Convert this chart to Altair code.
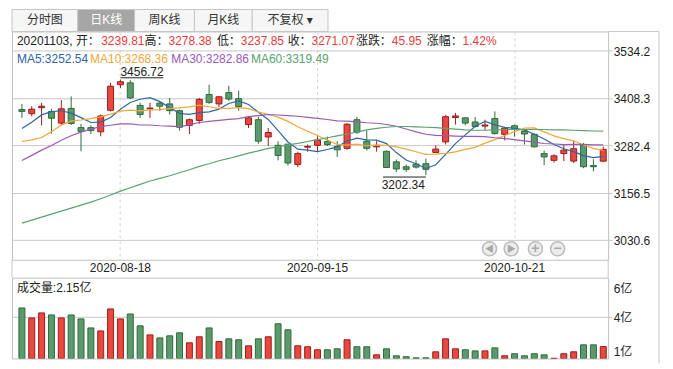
import altair as alt
import pandas as pd

FONT = "Liberation Sans, Noto Sans CJK SC, DejaVu Sans, sans-serif"

# ---------------- data ----------------
dates = ["2020-08-04","2020-08-05","2020-08-06","2020-08-07","2020-08-10","2020-08-11","2020-08-12","2020-08-13","2020-08-14","2020-08-17",
         "2020-08-18","2020-08-19","2020-08-20","2020-08-21","2020-08-24","2020-08-25","2020-08-26","2020-08-27","2020-08-28","2020-08-31",
         "2020-09-01","2020-09-02","2020-09-03","2020-09-04","2020-09-07","2020-09-08","2020-09-09","2020-09-10","2020-09-11","2020-09-14",
         "2020-09-15","2020-09-16","2020-09-17","2020-09-18","2020-09-21","2020-09-22","2020-09-23","2020-09-24","2020-09-25","2020-09-28",
         "2020-09-29","2020-09-30","2020-10-09","2020-10-12","2020-10-13","2020-10-14","2020-10-15","2020-10-16","2020-10-19","2020-10-20",
         "2020-10-21","2020-10-22","2020-10-23","2020-10-26","2020-10-27","2020-10-28","2020-10-29","2020-10-30","2020-11-02","2020-11-03"]

opens = [3377,3366,3382,3372,3341,3380,3329,3329,3318,3375,
         3443,3448,3388,3379,3394,3392,3374,3335,3348,3417,
         3392,3422,3406,3337,3350,3304,3282,3285,3231,3277,
         3282,3292,3279,3274,3350,3293,3278,3266,3238,3225,
         3232,3233,3263,3291,3356,3355,3344,3333,3353,3311,
         3334,3320,3311,3260,3242,3260,3240,3282,3228,3239.81]
highs = [3392,3386,3395,3379,3402,3412,3339,3335,3364,3448,
         3456.72,3455,3395,3395,3400,3408,3377,3353,3408,3443,
         3413,3440,3427,3358,3358,3328,3293,3285,3265,3284,
         3306,3305,3293,3341,3358,3321,3293,3268,3244,3231,
         3242,3247,3282,3362,3368,3356,3357,3350,3372,3331,
         3337,3322,3313,3268,3258,3282,3293,3288,3245,3278.38]
lows = [3355,3359,3335,3313,3337,3336,3266,3312,3306,3372,
        3434,3405,3355,3355,3373,3364,3321,3312,3339,3392,
        3383,3400,3374,3328,3286,3280,3242,3228,3224,3265,
        3266,3280,3251,3270,3312,3268,3265,3222,3211,3211,
        3220,3202.34,3262,3284,3337,3335,3329,3323,3311,3295,
        3305,3284,3276,3229,3236,3240,3235,3221,3213,3237.85]
closes = [3372,3378,3386,3354,3379,3340,3319,3321,3360,3439,
          3451,3408,3364,3381,3386,3374,3330,3350,3404,3396,
          3411,3405,3385,3355,3293,3316,3255,3235,3260,3279,
          3296,3284,3270,3338,3317,3274,3280,3223,3219,3218,
          3224,3218,3272,3358,3360,3341,3332,3336,3313,3328,
          3325,3312,3278,3251,3254,3269,3273,3225,3225,3271.07]

ma5 = [3326.4,3343.0,3362.8,3371.6,3373.8,3367.4,3355.6,3342.6,3343.8,3355.8,
       3378.0,3395.8,3404.4,3408.6,3398.0,3382.6,3367.0,3364.2,3368.8,3370.8,
       3378.2,3393.2,3400.2,3390.4,3369.8,3350.8,3320.8,3290.8,3271.8,3269.0,
       3265.0,3270.8,3277.8,3293.4,3301.0,3296.6,3295.8,3286.4,3262.6,3242.8,
       3232.8,3220.4,3230.2,3258.0,3286.4,3309.8,3332.6,3345.4,3336.4,3330.0,
       3326.8,3322.8,3311.2,3298.8,3284.0,3272.8,3265.0,3254.4,3249.2,3252.54]
ma10 = [3292.0,3296.5,3302.6,3318.3,3335.7,3346.9,3349.3,3352.7,3357.7,3364.8,
        3372.7,3375.7,3373.5,3376.2,3376.9,3380.3,3381.4,3384.3,3388.7,3384.4,
        3380.4,3380.1,3382.2,3379.6,3370.3,3364.5,3357.0,3345.5,3331.1,3319.4,
        3307.9,3295.8,3284.3,3282.6,3285.0,3280.8,3283.3,3282.1,3278.0,3271.9,
        3264.7,3258.1,3258.3,3260.3,3264.6,3271.3,3276.5,3287.8,3297.2,3308.2,
        3318.3,3327.7,3328.3,3317.6,3307.0,3299.8,3293.9,3282.8,3274.0,3268.36]
ma30 = [3241.5,3255.2,3269.1,3281.6,3295.5,3307.3,3317.1,3324.8,3331.7,3335.2,
        3338.7,3338.9,3336.0,3335.9,3334.0,3332.7,3331.6,3336.3,3342.6,3345.4,
        3348.4,3350.8,3352.8,3358.0,3361.0,3363.9,3362.6,3360.8,3359.2,3356.2,
        3353.7,3350.5,3346.7,3346.1,3344.1,3341.9,3340.6,3337.3,3332.6,3325.2,
        3317.7,3311.3,3308.3,3307.5,3306.6,3305.5,3305.6,3305.1,3302.1,3299.8,
        3297.0,3293.9,3290.3,3286.8,3285.5,3284.0,3284.6,3284.2,3283.1,3282.86]
ma60 = [3075,3083,3091,3099,3107,3115,3123,3131,3140,3150,
        3160,3169,3178,3187,3194,3201,3209,3217,3226,3233,
        3241,3247,3254,3261,3267,3274,3278,3283,3287,3292,
        3297,3302,3307,3312,3317,3323,3327,3330,3332,3332,
        3331,3330,3329,3327,3325,3323,3322,3322,3323,3324,
        3324,3324,3324,3324,3323,3323,3322,3321,3320,3319.49]

volumes = [4.59,3.96,4.28,4.15,3.96,4.15,3.90,3.33,3.14,4.53,
           3.90,4.21,3.46,2.89,2.70,2.83,3.02,2.39,2.77,3.33,
           2.47,2.64,2.58,2.20,2.64,2.77,3.59,3.21,2.20,2.14,
           1.95,1.95,2.01,2.58,2.14,2.14,1.63,2.01,1.57,1.51,
           1.44,1.44,1.82,2.64,2.01,1.95,1.88,1.88,2.07,1.57,
           1.70,1.57,1.70,1.63,1.41,1.70,1.82,2.26,2.26,2.15]

price_ticks = [3030.6, 3156.5, 3282.4, 3408.3, 3534.2]
price_domain = [2977.6, 3584.6]
vol_base = 1.4
vol_domain = [1.4, 6.5]
vol_ticks = [1.4, 4, 5.8]
vol_grid = [4]
date_ticks = ["2020-08-18", "2020-09-15", "2020-10-21"]

ma_names = ["MA5", "MA10", "MA30", "MA60"]
ma_last = ["3252.54", "3268.36", "3282.86", "3319.49"]
ma_colors = ["#2f66a6", "#eea83c", "#9b59b6", "#58a46e"]

info_labels = ["20201103, 开：", "高：", "低：", "收：", "涨跌：", "涨幅："]
info_values = ["3239.81", "3278.38", "3237.85", "3271.07", "45.95", "1.42%"]
high_mark = ("2020-08-18", 3456.72)
low_mark = ("2020-09-30", 3202.34)
vol_title = "成交量:2.15亿"
tabs = ["分时图", "日K线", "周K线", "月K线", "不复权 ▾"]
tab_selected = 1
nav_glyphs = ["◀", "▶", "+", "−"]

# ---------------- layout constants ----------------
W, H_P, H_V = 598, 229, 81
RED_F, RED_S = "#e8483e", "#9b1c1c"
GRN_F, GRN_S = "#5b9a6e", "#2e6b36"
GRID = "#c8c8c8"
TXT = "#222222"
VAL_RED = "#e83c3c"

df = pd.DataFrame({"date": dates, "open": opens, "high": highs, "low": lows,
                   "close": closes, "vol": volumes})
df["dir"] = ["up" if c >= o else "down" for o, c in zip(opens, closes)]

ma_df = pd.concat([pd.DataFrame({"date": dates, "value": v, "name": n})
                   for n, v in zip(ma_names, [ma5, ma10, ma30, ma60])])

xscale = alt.Scale(type="band", paddingInner=0, paddingOuter=0.253, align=1)
x_axis = alt.Axis(values=date_ticks, labelAngle=0, grid=True, gridDash=[3, 3],
                  gridColor="#d4d4d4", domain=False, ticks=False, tickSize=0,
                  labelPadding=3, bandPosition=0.5, labelFontSize=12,
                  labelColor=TXT, labelFont=FONT, title=None)
X = alt.X("date:O", scale=xscale, axis=x_axis, title=None)
pscale = alt.Scale(domain=price_domain, zero=False, nice=False)
p_axis = alt.Axis(orient="right", values=price_ticks, format=".1f", grid=True,
                  gridColor=GRID, domain=False, tickSize=4, tickColor=GRID,
                  labelPadding=1, labelOffset=1, labelFontSize=12, labelColor=TXT,
                  labelFont=FONT, title=None)

def PY(field):
    return alt.Y(field, scale=pscale, axis=p_axis, title=None)

fill_enc = alt.Fill("dir:N", scale=alt.Scale(domain=["up", "down"], range=[RED_F, GRN_F]), legend=None)
stroke_enc = alt.Stroke("dir:N", scale=alt.Scale(domain=["up", "down"], range=[RED_S, GRN_S]), legend=None)

base = alt.Chart(df)
wicks = base.mark_rule(strokeWidth=1).encode(x=X, y=PY("low:Q"), y2="high:Q", stroke=stroke_enc)
bodies = base.mark_bar(size=6, strokeWidth=1).encode(x=X, y=PY("open:Q"), y2="close:Q",
                                                     fill=fill_enc, stroke=stroke_enc)
ma_lines = alt.Chart(ma_df).mark_line(strokeWidth=1.2).encode(
    x=X, y=PY("value:Q"),
    color=alt.Color("name:N", scale=alt.Scale(domain=ma_names, range=ma_colors), legend=None),
    order=alt.Order("date:O"))

def one():
    return pd.DataFrame({"a": [0]})

def label(txt, x, y, color=TXT, size=12, align="left", baseline="middle", weight="normal"):
    return alt.Chart(pd.DataFrame({"t": [txt]})).mark_text(
        align=align, baseline=baseline, fontSize=size, color=color, font=FONT,
        fontWeight=weight).encode(x=alt.value(x), y=alt.value(y), text="t:N")

def box(x0, x1, y0, y1, fill, stroke, sw=1):
    return alt.Chart(one()).mark_rect(fill=fill, stroke=stroke, strokeWidth=sw).encode(
        x=alt.value(x0), x2=alt.value(x1), y=alt.value(y0), y2=alt.value(y1))

def line(x0, x1, y0, y1, color=GRID):
    return alt.Chart(one()).mark_rule(color=color, strokeWidth=1).encode(
        x=alt.value(x0), x2=alt.value(x1), y=alt.value(y0), y2=alt.value(y1))

# info row (label anchors: (x, align); values start at x)
info_lab_pos = [(5, "left"), (157, "right"), (229.5, "right"), (300.5, "right"),
                (345, "left"), (452, "right")]
info_val_x = [89.5, 157, 229.5, 300.5, 381, 452]
texts = []
for t, (x, a) in zip(info_labels, info_lab_pos):
    texts.append(label(t, x, 10, align=a))
for t, x in zip(info_values, info_val_x):
    texts.append(label(t, x, 10, VAL_RED))
# MA legend
for n, v, c, x in zip(ma_names, ma_last, ma_colors, [5, 78.3, 159.7, 239.7]):
    texts.append(label(f"{n}:{v}", x, 27.5, c))

# high / low annotations
hi_df = pd.DataFrame({"date": [high_mark[0]], "price": [high_mark[1]], "t": [f"{high_mark[1]:.2f}"]})
lo_df = pd.DataFrame({"date": [low_mark[0]], "price": [low_mark[1]], "t": [f"{low_mark[1]:.2f}"]})
hi_txt = alt.Chart(hi_df).mark_text(align="left", baseline="middle", dy=-7.5, fontSize=12,
                                    color=TXT, font=FONT).encode(x=X, y=PY("price:Q"), text="t:N")
hi_line = alt.Chart(hi_df).mark_rule(color=TXT, strokeWidth=1, x2Offset=43, yOffset=-1.8).encode(
    x=X, x2="date:O", y=PY("price:Q"))
lo_txt = alt.Chart(lo_df).mark_text(align="right", baseline="middle", dy=9.5, dx=-1, fontSize=12,
                                    color=TXT, font=FONT).encode(x=X, y=PY("price:Q"), text="t:N")
lo_line = alt.Chart(lo_df).mark_rule(color=TXT, strokeWidth=1, xOffset=-43, yOffset=1.8).encode(
    x=X, x2="date:O", y=PY("price:Q"))

# tabs above the plot
tab_edges = [0, 66, 123, 183, 241, 317]
tab_layers = []
for i, t in enumerate(tabs):
    sel = i == tab_selected
    tab_layers.append(box(tab_edges[i], tab_edges[i + 1], -22, 0,
                          "#a6a6a6" if sel else "#f6f6f6", "#c6c6c6"))
    tab_layers.append(label(t, (tab_edges[i] + tab_edges[i + 1]) / 2, -11,
                            "#ffffff" if sel else "#333333", 12, align="center"))

# navigation buttons
nav_x = [479, 500.7, 525, 547.3]
nav_layers = []
for g, x in zip(nav_glyphs, nav_x):
    nav_layers.append(alt.Chart(one()).mark_point(shape="circle", filled=True, size=200,
                                                  fill="#ececec", stroke="#bdbdbd",
                                                  strokeWidth=1.5, opacity=1).encode(
        x=alt.value(x), y=alt.value(218)))
    nav_layers.append(label(g, x, 218, "#a9a9a9", 9 if g in "◀▶" else 14,
                            align="center", weight="bold"))

# frame lines outside the plot
frame = [line(W, 649, 0, 0), line(649, 649, 0, 333), line(0, 0, H_P, 247),
         line(W, W, H_P, 247)]

price = alt.layer(*tab_layers, wicks, bodies, ma_lines, hi_txt, hi_line, lo_txt, lo_line,
                  *texts, *nav_layers, *frame).properties(width=W, height=H_P)

# ---------------- volume ----------------
vscale = alt.Scale(domain=vol_domain, zero=False, nice=False)
v_axis = alt.Axis(orient="right", values=vol_ticks, labelExpr="round(datum.value) + '亿'",
                  grid=False, domain=False, ticks=False, tickSize=0, labelPadding=5,
                  labelFlush=True, labelFontSize=12, labelColor=TXT, labelFont=FONT, title=None)
VX = alt.X("date:O", scale=xscale, axis=None)
vbars = alt.Chart(df).mark_bar(size=6, strokeWidth=1, clip=True).encode(
    x=VX, y=alt.Y("vol:Q", scale=vscale, axis=v_axis, title=None), y2=alt.datum(vol_base),
    fill=fill_enc, stroke=stroke_enc)
vgrid = alt.Chart(pd.DataFrame({"v": vol_grid})).mark_rule(color=GRID, strokeWidth=1).encode(
    y=alt.Y("v:Q", scale=vscale, axis=v_axis, title=None), x=alt.value(0), x2=alt.value(W + 4))
volume = alt.layer(vgrid, vbars, label(vol_title, 5, 10)).properties(width=W, height=H_V)

chart = alt.vconcat(price, volume, spacing=18, bounds="flush").properties(
    padding={"left": 3, "top": 0, "right": 5, "bottom": 2}
).configure(font=FONT).configure_view(stroke="#c0c0c0")

chart.save("out.html", embed_options={"renderer": "svg", "actions": False})
